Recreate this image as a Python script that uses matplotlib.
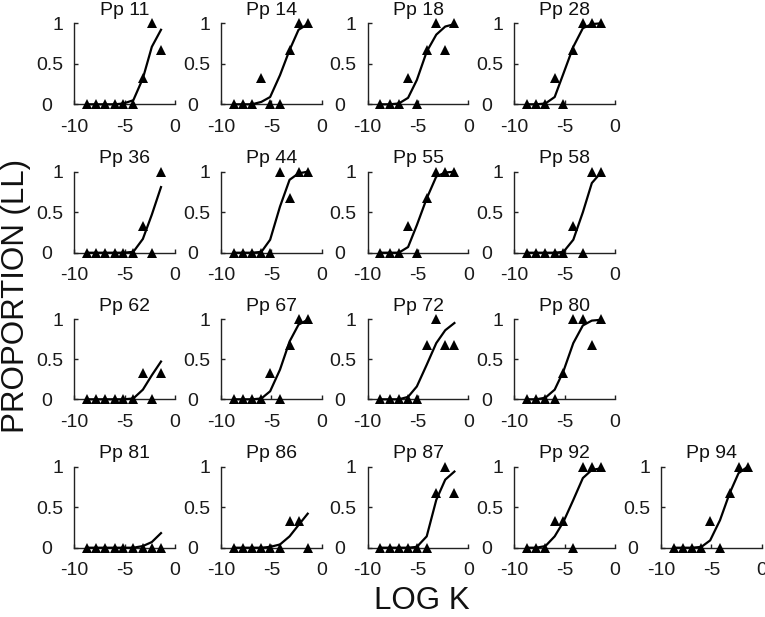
import matplotlib
matplotlib.use("Agg")
import matplotlib.pyplot as plt

plt.rcParams['font.family'] = ['Liberation Sans', 'DejaVu Sans']
plt.rcParams['axes.unicode_minus'] = False

# log K values of the questionnaire items
log_k = [-8.74, -7.82, -6.91, -5.99, -5.12, -4.14, -3.19, -2.30, -1.39]

participants = ["Pp 11", "Pp 14", "Pp 18", "Pp 28",
                "Pp 36", "Pp 44", "Pp 55", "Pp 58",
                "Pp 62", "Pp 67", "Pp 72", "Pp 80",
                "Pp 81", "Pp 86", "Pp 87", "Pp 92", "Pp 94"]

# observed proportions of LL choices
observed = {
    "Pp 11": [0, 0, 0, 0, 0, 0, 0.33, 1, 0.67],
    "Pp 14": [0, 0, 0, 0.33, 0, 0, 0.67, 1, 1],
    "Pp 18": [0, 0, 0, 0.33, 0, 0.67, 1, 0.67, 1],
    "Pp 28": [0, 0, 0, 0.33, 0, 0.67, 1, 1, 1],
    "Pp 36": [0, 0, 0, 0, 0, 0, 0.33, 0, 1],
    "Pp 44": [0, 0, 0, 0, 0, 1, 0.67, 1, 1],
    "Pp 55": [0, 0, 0, 0.33, 0, 0.67, 1, 1, 1],
    "Pp 58": [0, 0, 0, 0, 0, 0.33, 0, 1, 1],
    "Pp 62": [0, 0, 0, 0, 0, 0, 0.33, 0, 0.33],
    "Pp 67": [0, 0, 0, 0, 0.33, 0, 0.67, 1, 1],
    "Pp 72": [0, 0, 0, 0, 0, 0.67, 1, 0.67, 0.67],
    "Pp 80": [0, 0, 0, 0, 0.33, 1, 1, 0.67, 1],
    "Pp 81": [0, 0, 0, 0, 0, 0, 0, 0, 0],
    "Pp 86": [0, 0, 0, 0, 0, 0, 0.33, 0.33, 0],
    "Pp 87": [0, 0, 0, 0, 0, 0, 0.67, 1, 0.67],
    "Pp 92": [0, 0, 0, 0.33, 0.33, 0, 1, 1, 1],
    "Pp 94": [0, 0, 0, 0, 0.33, 0, 0.67, 1, 1],
}

# fitted curve values at each log K
fitted = {
    "Pp 11": [0, 0, 0, 0, 0.01, 0.05, 0.32, 0.71, 0.92],
    "Pp 14": [0, 0, 0, 0.03, 0.09, 0.36, 0.67, 0.92, 0.99],
    "Pp 18": [0, 0, 0.01, 0.08, 0.30, 0.65, 0.86, 0.96, 0.99],
    "Pp 28": [0, 0, 0.01, 0.09, 0.38, 0.71, 0.94, 0.99, 1.0],
    "Pp 36": [0, 0, 0, 0, 0, 0.01, 0.17, 0.47, 0.81],
    "Pp 44": [0, 0, 0, 0.01, 0.16, 0.57, 0.90, 0.98, 1.0],
    "Pp 55": [0, 0, 0, 0.07, 0.34, 0.67, 0.94, 0.99, 1.0],
    "Pp 58": [0, 0, 0, 0, 0.01, 0.16, 0.50, 0.86, 0.99],
    "Pp 62": [0, 0, 0, 0, 0, 0.01, 0.12, 0.30, 0.47],
    "Pp 67": [0, 0, 0, 0.01, 0.10, 0.37, 0.72, 0.93, 0.99],
    "Pp 72": [0, 0, 0, 0.03, 0.16, 0.43, 0.70, 0.86, 0.95],
    "Pp 80": [0, 0, 0.02, 0.12, 0.35, 0.70, 0.92, 0.98, 0.99],
    "Pp 81": [0, 0, 0, 0, 0, 0, 0.02, 0.07, 0.18],
    "Pp 86": [0, 0, 0, 0, 0.01, 0.04, 0.14, 0.28, 0.42],
    "Pp 87": [0, 0, 0, 0, 0.01, 0.14, 0.59, 0.84, 0.94],
    "Pp 92": [0, 0, 0.02, 0.14, 0.32, 0.59, 0.86, 0.96, 0.98],
    "Pp 94": [0, 0, 0, 0.01, 0.09, 0.34, 0.67, 0.92, 1.0],
}

x_ticks = [-10, -5, 0]
y_ticks = [0, 0.5, 1]
y_tick_labels = ["0  ", "0.5", "1"]

W, H = 765, 617
fig = plt.figure(figsize=(W / 100, H / 100), dpi=100)

col_left = [74.3, 221.0, 367.7, 514.3, 661.0]
ax_w = 100.7
row_top = [23.3, 171.7, 319.0, 466.7]
row_bot = [104.3, 252.7, 399.3, 547.7]
row_counts = [4, 4, 4, 5]

idx = 0
for r, n in enumerate(row_counts):
    for c in range(n):
        name = participants[idx]
        idx += 1
        left = col_left[c] / W
        bottom = 1 - row_bot[r] / H
        height = (row_bot[r] - row_top[r]) / H
        ax = fig.add_axes([left, bottom, ax_w / W, height])
        ax.plot(log_k, fitted[name], color='k', lw=1.6, clip_on=False, zorder=3)
        ax.plot(log_k, observed[name], linestyle='none', marker='^', color='k',
                markersize=7, markeredgewidth=0, clip_on=False, zorder=4)
        ax.set_xlim(-10, 0)
        ax.set_ylim(0, 1)
        ax.set_xticks(x_ticks)
        ax.set_yticks(y_ticks)
        ax.set_yticklabels(y_tick_labels)
        for s in ['top', 'right']:
            ax.spines[s].set_visible(False)
        for s in ['left', 'bottom']:
            ax.spines[s].set_linewidth(1.0)
            ax.spines[s].set_color('#222222')
        ax.tick_params(axis='both', direction='in', length=3, width=1.0,
                       labelsize=14, colors='#222222', labelcolor='#1a1a1a')
        ax.tick_params(axis='x', pad=10.5)
        ax.tick_params(axis='y', pad=8)
        ax.set_title(name, fontsize=14, pad=6, color='#111111')
        ax.patch.set_alpha(0)

fig.text(421.5 / W, 1 - 609 / H, "LOG K", fontsize=22.5, ha='center', va='baseline', color='#111111')
fig.text(16 / W, 1 - 296 / H, "PROPORTION (LL)", fontsize=22.5, ha='center', va='center',
         rotation=90, color='#111111')

fig.savefig("out.png", dpi=100)
